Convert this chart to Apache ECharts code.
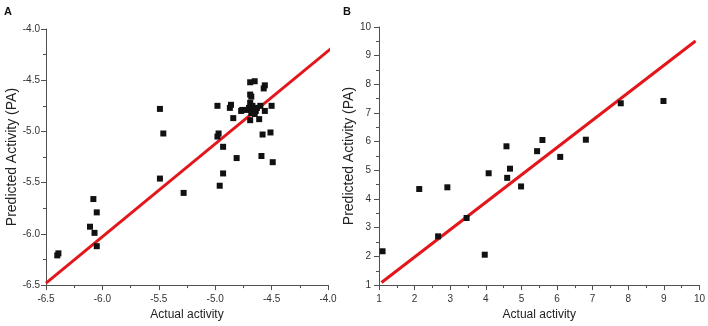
<!DOCTYPE html>
<html>
<head>
<meta charset="utf-8">
<script src="https://cdn.jsdelivr.net/npm/echarts@6.0.0/dist/echarts.min.js"></script>
<style>
html,body{margin:0;padding:0;background:#fff;}
#chart{width:708px;height:326px;}
</style>
</head>
<body>
<div id="chart"></div>
<script>
// Panel A: actual vs predicted activity (training)
var aActual = [
  -6.40, -6.39, -6.08, -6.05, -6.11, -6.07, -6.05,
  -5.49, -5.46, -5.49, -5.28,
  -4.98, -4.97, -4.98, -4.93, -4.93, -4.96, -4.81,
  -4.87, -4.86, -4.84, -4.77,
  -4.69, -4.65, -4.56, -4.57, -4.69, -4.68, -4.69,
  -4.76, -4.72, -4.70, -4.67, -4.66, -4.64, -4.68, -4.65, -4.63, -4.60,
  -4.56, -4.50, -4.69, -4.61,
  -4.58, -4.51, -4.59, -4.49
];
var aPredicted = [
  -6.21, -6.19, -5.66, -5.79, -5.93, -5.99, -6.12,
  -4.78, -5.02, -5.46, -5.60,
  -4.75, -5.02, -5.05, -5.15, -5.41, -5.53, -5.26,
  -4.77, -4.74, -4.87, -4.80,
  -4.52, -4.51, -4.55, -4.58, -4.64, -4.66, -4.72,
  -4.79, -4.79, -4.77, -4.75, -4.78, -4.80, -4.82, -4.83, -4.77, -4.75,
  -4.80, -4.75, -4.89, -4.88,
  -5.03, -5.01, -5.24, -5.30
];
var aFitX = [-6.5, -3.95];
var aFitY = [-6.48, -4.17];
var aTicks = [-6.5, -6.0, -5.5, -5.0, -4.5, -4.0];

// Panel B: actual vs predicted activity (test)
var bActual = [1.10, 2.13, 2.66, 2.92, 3.46, 3.97, 4.08, 4.58, 4.60, 4.68, 4.99, 5.44, 5.59, 6.09, 6.81, 7.79, 8.99];
var bPredicted = [2.18, 4.35, 2.70, 4.41, 3.34, 2.06, 4.90, 5.84, 4.74, 5.06, 4.44, 5.67, 6.06, 5.47, 6.07, 7.34, 7.42];
var bFitX = [1.07, 9.89];
var bFitY = [1.09, 9.51];
var bTicks = [1, 2, 3, 4, 5, 6, 7, 8, 9, 10];

var xName = 'Actual activity';
var yName = 'Predicted Activity (PA)';

function pairs(xs, ys) { return xs.map(function (x, i) { return [x, ys[i]]; }); }

var FONT = "'Liberation Sans', Arial, sans-serif";
var AXIS_COLOR = '#505050';

function axis(gridIndex, ticks, decimals, name, nameGap, nameSize, labelMargin) {
  return {
    type: 'value',
    gridIndex: gridIndex,
    min: ticks[0],
    max: ticks[ticks.length - 1],
    interval: ticks[1] - ticks[0],
    name: name,
    nameLocation: 'middle',
    nameGap: nameGap,
    nameTextStyle: { fontFamily: FONT, fontSize: nameSize, color: '#222' },
    axisLine: { show: true, onZero: false, lineStyle: { color: AXIS_COLOR, width: 1 } },
    axisTick: { show: true, inside: false, length: 5, lineStyle: { color: AXIS_COLOR, width: 1 } },
    minorTick: { show: true, splitNumber: 2, length: 3, lineStyle: { color: AXIS_COLOR, width: 1 } },
    splitLine: { show: false },
    minorSplitLine: { show: false },
    axisLabel: {
      fontFamily: FONT, fontSize: 10, color: '#333', margin: labelMargin,
      formatter: function (v) { return v.toFixed(decimals); }
    }
  };
}

var chart = echarts.init(document.getElementById('chart'), null, { renderer: 'canvas' });
chart.setOption({
  animation: false,
  backgroundColor: '#fff',
  title: [
    { text: 'A', left: 4, top: 6, padding: 0, textStyle: { fontFamily: FONT, fontSize: 11, fontWeight: 'bold', color: '#111' } },
    { text: 'B', left: 343, top: 6, padding: 0, textStyle: { fontFamily: FONT, fontSize: 11, fontWeight: 'bold', color: '#111' } }
  ],
  grid: [
    { left: 46, top: 29, width: 282, height: 257, containLabel: false },
    { left: 379, top: 27, width: 321, height: 262, containLabel: false }
  ],
  xAxis: [
    axis(0, aTicks, 1, xName, 23, 12, 9),
    axis(1, bTicks, 0, xName, 21, 12, 9)
  ],
  yAxis: [
    axis(0, aTicks, 1, yName, 23, 14, 6),
    axis(1, bTicks, 0, yName, 13, 14, 8)
  ],
  series: [
    {
      type: 'line', xAxisIndex: 0, yAxisIndex: 0, data: pairs(aFitX, aFitY),
      symbol: 'none', clip: false, silent: true,
      lineStyle: { color: '#e3161b', width: 3 }, z: 2
    },
    {
      type: 'scatter', xAxisIndex: 0, yAxisIndex: 0, data: pairs(aActual, aPredicted),
      symbol: 'rect', symbolSize: 6, itemStyle: { color: '#111', opacity: 1 }, z: 3
    },
    {
      type: 'line', xAxisIndex: 1, yAxisIndex: 1, data: pairs(bFitX, bFitY),
      symbol: 'none', clip: false, silent: true,
      lineStyle: { color: '#e3161b', width: 3 }, z: 2
    },
    {
      type: 'scatter', xAxisIndex: 1, yAxisIndex: 1, data: pairs(bActual, bPredicted),
      symbol: 'rect', symbolSize: 6, itemStyle: { color: '#111', opacity: 1 }, z: 3
    }
  ]
});
</script>
</body>
</html>
